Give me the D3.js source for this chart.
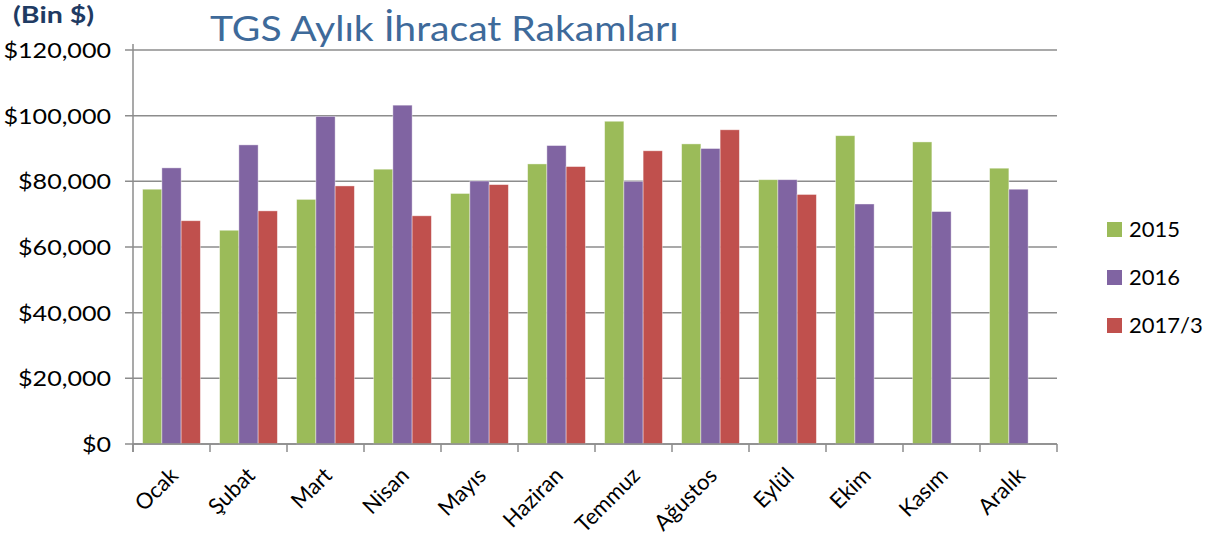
<!DOCTYPE html>
<html>
<head>
<meta charset="utf-8">
<script src="https://cdn.jsdelivr.net/npm/d3@7"></script>
<style>
  body { margin: 0; background: #fff; }
  svg { display: block; font-family: Lato, "Open Sans", sans-serif; }
</style>
</head>
<body>
<svg id="chart" width="1221" height="540"></svg>
<script>
// months, series names and values (Bin $)
const months = ["Ocak", "Şubat", "Mart", "Nisan", "Mayıs", "Haziran", "Temmuz", "Ağustos", "Eylül", "Ekim", "Kasım", "Aralık"];
const seriesNames = ["2015", "2016", "2017/3"];
const values2015 = [77600, 65100, 74500, 83700, 76300, 85300, 98300, 91400, 80500, 93900, 92000, 84000];
const values2016 = [84100, 91100, 99800, 103200, 80100, 90900, 80000, 90000, 80500, 73100, 70800, 77600];
const values2017 = [68000, 71000, 78600, 69500, 79000, 84500, 89300, 95700, 76000, null, null, null];
const yTicks = [0, 20000, 40000, 60000, 80000, 100000, 120000];
const colors = ["#9BBB59", "#8064A2", "#C0504D"];

const svg = d3.select("#chart");
const margin = { left: 133, right: 164, top: 50, bottom: 96 };
const W = 1221, H = 540;

const allSeries = [values2015, values2016, values2017];
const rows = months.map((m, i) => ({ month: m, vals: allSeries.map((s, j) => ({ key: seriesNames[j], v: s[i] })) }));

const x0 = d3.scaleBand().domain(months).range([margin.left, W - margin.right]).padding(0);
const x1 = d3.scaleBand().domain(seriesNames).range([0, x0.bandwidth()]).paddingInner(0).paddingOuter(0.5);
const y = d3.scaleLinear().domain([0, 120000]).range([H - margin.bottom, margin.top]);

// grid lines
svg.append("g").selectAll("line")
  .data(yTicks)
  .join("line")
    .attr("x1", margin.left - 8)
    .attr("x2", W - margin.right)
    .attr("y1", d => y(d))
    .attr("y2", d => y(d))
    .attr("stroke", "#8c8c8c")
    .attr("stroke-width", 1.5);

// y tick labels (reference text is a bit wider, hence scaleX)
svg.append("g").selectAll("text")
  .data(yTicks)
  .join("text")
    .attr("transform", d => `translate(111,${y(d)}) scale(1.14,1)`)
    .attr("dy", "0.36em")
    .attr("text-anchor", "end")
    .attr("font-size", "22px")
    .attr("fill", "#000")
    .text(d => "$" + d3.format(",")(d));

// bars
const grp = svg.append("g").selectAll("g")
  .data(rows)
  .join("g")
    .attr("transform", d => `translate(${x0(d.month)},0)`);

grp.selectAll("rect")
  .data(d => d.vals.filter(v => v.v != null))
  .join("rect")
    .attr("x", d => x1(d.key))
    .attr("y", d => y(d.v))
    .attr("width", x1.bandwidth())
    .attr("height", d => y(0) - y(d.v))
    .attr("fill", d => colors[seriesNames.indexOf(d.key)])
    .attr("stroke", "#ffffff")
    .attr("stroke-opacity", 0.5)
    .attr("stroke-width", 0.8);

// axes lines
svg.append("line")
  .attr("x1", margin.left).attr("x2", margin.left)
  .attr("y1", margin.top - 6).attr("y2", y(0) + 8)
  .attr("stroke", "#8c8c8c").attr("stroke-width", 1.5);

svg.append("line")
  .attr("x1", margin.left).attr("x2", W - margin.right)
  .attr("y1", y(0)).attr("y2", y(0))
  .attr("stroke", "#8c8c8c").attr("stroke-width", 1.5);

// x ticks at category boundaries
svg.append("g").selectAll("line")
  .data(months.map(m => x0(m)).concat([W - margin.right]))
  .join("line")
    .attr("x1", d => d).attr("x2", d => d)
    .attr("y1", y(0)).attr("y2", y(0) + 8)
    .attr("stroke", "#8c8c8c").attr("stroke-width", 1.5);

// x labels
svg.append("g").selectAll("text")
  .data(months)
  .join("text")
    .attr("transform", d => `translate(${x0(d) + x0.bandwidth() / 2 - 3},${y(0) + 22}) rotate(-45)`)
    .attr("text-anchor", "end")
    .attr("dy", "0.7em")
    .attr("font-size", "22px")
    .attr("fill", "#000")
    .text(d => d);

// title and unit label
svg.append("text")
  .attr("transform", "translate(210,41) scale(1.15,1)")
  .attr("font-size", "34px")
  .attr("fill", "#3E6A9A")
  .text("TGS Aylık İhracat Rakamları");

svg.append("text")
  .attr("transform", "translate(13,23) scale(1.3,1)")
  .attr("font-size", "22px")
  .attr("font-weight", "bold")
  .attr("fill", "#1F3B63")
  .text("(Bin $)");

// legend
const leg = svg.append("g").selectAll("g")
  .data(seriesNames)
  .join("g")
    .attr("transform", (d, i) => `translate(1107,${222 + i * 48})`);

leg.append("rect")
  .attr("width", 15).attr("height", 15)
  .attr("fill", (d, i) => colors[i]);

leg.append("text")
  .attr("x", 22).attr("y", 7.5)
  .attr("dy", "0.36em")
  .attr("font-size", "22px")
  .attr("fill", "#000")
  .text(d => d);
</script>
</body>
</html>
